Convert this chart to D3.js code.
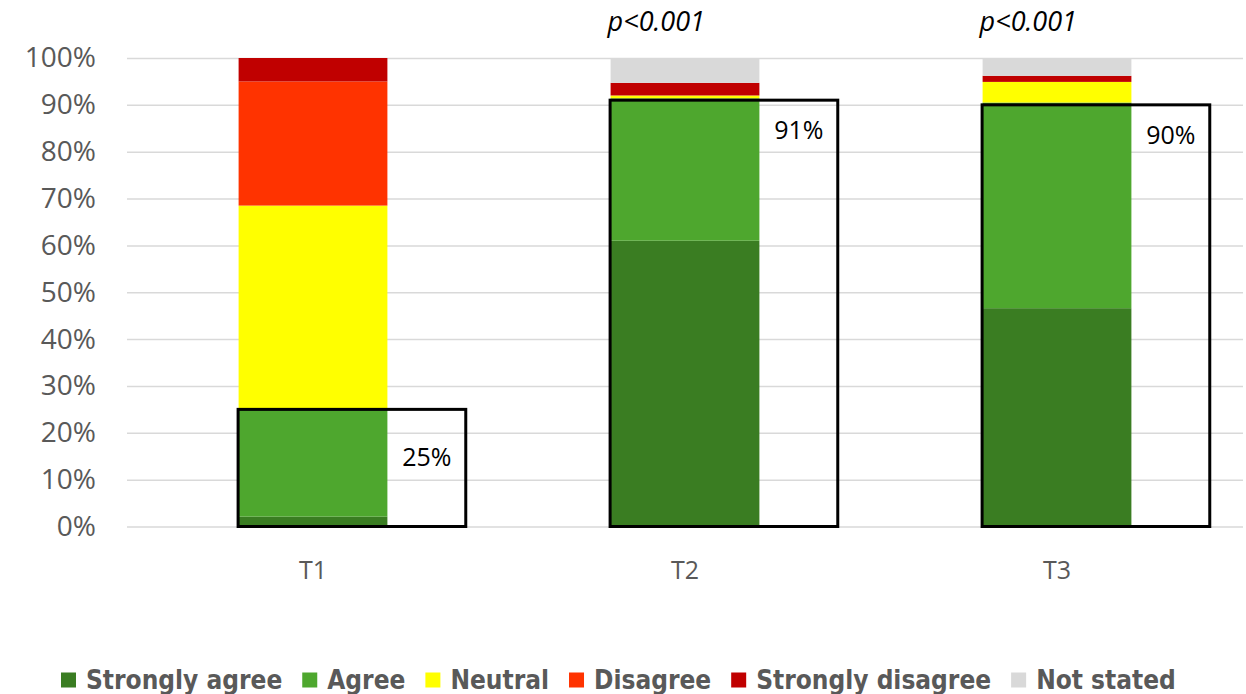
<!DOCTYPE html>
<html>
<head>
<meta charset="utf-8">
<script src="https://cdn.jsdelivr.net/npm/d3@7"></script>
<style>
  html, body { margin: 0; padding: 0; background: #fff; }
  svg { display: block; }
</style>
</head>
<body>
<svg id="chart" width="1246" height="694"></svg>
<script>
// Survey responses at three time points (percent of respondents)
const categories = ["T1", "T2", "T3"];
const series = ["Strongly agree", "Agree", "Neutral", "Disagree", "Strongly disagree", "Not stated"];
const stronglyAgree    = [2.1, 61.0, 46.6];
const agree            = [22.9, 30.4, 43.9];
const neutral          = [43.5, 0.6, 4.4];
const disagree         = [26.5, 0.0, 0.0];
const stronglyDisagree = [5.0, 2.7, 1.3];
const notStated        = [0.0, 5.3, 3.8];
const agreementTotals  = [25, 91, 90];
const significance     = ["", "p<0.001", "p<0.001"];
const yTicks = [0, 10, 20, 30, 40, 50, 60, 70, 80, 90, 100];

const colors = ["#3A7D22", "#4EA72E", "#FFFF00", "#FF3300", "#C00000", "#D9D9D9"];

const svg = d3.select("#chart");
const plot = { left: 127, right: 1243, top: 58, bottom: 526.5 };

const x = d3.scaleBand()
  .domain(categories)
  .range([plot.left, plot.right])
  .paddingInner(0.6)
  .paddingOuter(0.3);

const y = d3.scaleLinear().domain([0, 100]).range([plot.bottom, plot.top]);

// Rows for stacking
const rows = categories.map((c, i) => ({
  cat: c,
  "Strongly agree": stronglyAgree[i],
  "Agree": agree[i],
  "Neutral": neutral[i],
  "Disagree": disagree[i],
  "Strongly disagree": stronglyDisagree[i],
  "Not stated": notStated[i]
}));
const stacked = d3.stack().keys(series)(rows);
const color = d3.scaleOrdinal().domain(series).range(colors);

// Gridlines + y tick labels
const yAxis = svg.append("g")
  .attr("transform", `translate(${plot.left},0)`)
  .call(d3.axisLeft(y)
    .tickValues(yTicks)
    .tickFormat(d => d + "%")
    .tickSize(-(plot.right - plot.left))
    .tickPadding(31));
yAxis.select(".domain").remove();
yAxis.selectAll(".tick line").attr("stroke", "#D9D9D9").attr("stroke-width", 1.5);
yAxis.selectAll(".tick text")
  .attr("fill", "#595959")
  .style("font-family", "'Open Sans', 'DejaVu Sans', sans-serif")
  .style("font-size", "28px");

// Category labels
const xAxis = svg.append("g")
  .attr("transform", `translate(0,${plot.bottom})`)
  .call(d3.axisBottom(x).tickSize(0).tickPadding(35));
xAxis.select(".domain").remove();
xAxis.selectAll(".tick text")
  .attr("fill", "#595959")
  .style("font-family", "'Open Sans', 'DejaVu Sans', sans-serif")
  .style("font-size", "25px");

// Stacked bars
svg.append("g").selectAll("g")
  .data(stacked)
  .join("g")
  .attr("fill", d => color(d.key))
  .selectAll("rect")
  .data(d => d)
  .join("rect")
  .attr("x", d => x(d.data.cat))
  .attr("y", d => y(d[1]))
  .attr("width", x.bandwidth())
  .attr("height", d => Math.max(0, y(d[0]) - y(d[1])));

// Agreement boxes with their totals
const boxW = x.bandwidth() * 1.53;
const boxes = svg.append("g");
categories.forEach((c, i) => {
  const top = y(agreementTotals[i]);
  const h = y(0) - top;
  boxes.append("rect")
    .attr("x", x(c) - 0.5)
    .attr("y", top)
    .attr("width", boxW)
    .attr("height", h)
    .attr("fill", "none")
    .attr("stroke", "#000")
    .attr("stroke-width", 3);
  const extCenter = x(c) + x.bandwidth() + (boxW - x.bandwidth()) / 2;
  const labelOffset = h < 250 ? h * 0.4 : 29;
  boxes.append("text")
    .attr("x", extCenter)
    .attr("y", top + labelOffset)
    .attr("text-anchor", "middle")
    .attr("dominant-baseline", "central")
    .style("font-family", "'Open Sans', 'DejaVu Sans', sans-serif")
    .style("font-size", "25px")
    .attr("fill", "#000")
    .text(agreementTotals[i] + "%");
});

// Significance markers above the bars
svg.append("g").selectAll("text")
  .data(categories.map((c, i) => ({ c, t: significance[i] })).filter(d => d.t))
  .join("text")
  .attr("x", d => x(d.c) - 3)
  .attr("y", 31)
  .style("font-family", "'Open Sans', 'DejaVu Sans', sans-serif")
  .style("font-size", "27px")
  .style("font-style", "italic")
  .attr("fill", "#000")
  .text(d => d.t);

// Legend
const legend = svg.append("g");
const legendFont = "'DejaVu Sans Condensed', 'Liberation Sans Narrow', 'DejaVu Sans', sans-serif";
const sq = 15, gapIn = 10, gapOut = 20;
let lx = 61;
const ly = 680;
series.forEach((s, i) => {
  legend.append("rect")
    .attr("x", lx).attr("y", ly - sq / 2)
    .attr("width", sq).attr("height", sq)
    .attr("fill", colors[i]);
  const t = legend.append("text")
    .attr("x", lx + sq + gapIn)
    .attr("y", ly)
    .attr("dominant-baseline", "central")
    .style("font-family", legendFont)
    .style("font-weight", "bold")
    .style("font-stretch", "condensed")
    .style("font-size", "26px")
    .attr("fill", "#595959")
    .text(s);
  lx += sq + gapIn + t.node().getComputedTextLength() + gapOut;
});
</script>
</body>
</html>
